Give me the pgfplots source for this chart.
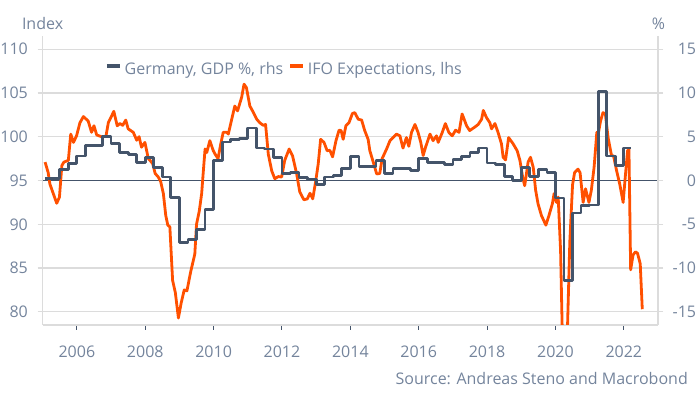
\documentclass[border=0pt]{standalone}
\usepackage{pgfplots}
\pgfplotsset{compat=1.18}
\usepackage{fontspec}
\setmainfont{Open Sans}
\definecolor{ifo}{HTML}{FF5000}
\definecolor{gdp}{HTML}{44546A}
\definecolor{txt}{HTML}{74849C}
\definecolor{gridc}{HTML}{DCDCDC}
\pgfplotstableread{
x y
2005.07 97.1
2005.16 95.9
2005.21 94.6
2005.31 93.5
2005.41 92.4
2005.49 93.1
2005.56 96.7
2005.62 97.1
2005.75 97.3
2005.82 100.3
2005.90 99.35
2005.99 100.1
2006.09 101.6
2006.19 102.3
2006.33 101.8
2006.43 100.5
2006.50 101.25
2006.58 100.2
2006.72 100.0
2006.85 100.05
2006.92 101.6
2007.02 102.4
2007.08 102.9
2007.18 101.25
2007.26 101.5
2007.34 101.3
2007.43 101.9
2007.50 100.9
2007.65 100.5
2007.75 99.6
2007.82 100.0
2007.89 98.8
2007.99 99.35
2008.09 97.5
2008.14 97.3
2008.22 96.9
2008.29 95.8
2008.38 95.4
2008.45 94.9
2008.53 93.5
2008.60 91.0
2008.66 89.9
2008.72 89.7
2008.80 83.6
2008.88 82.2
2008.97 79.3
2009.05 81.0
2009.14 82.5
2009.22 82.4
2009.33 84.6
2009.45 86.6
2009.50 90.0
2009.58 91.5
2009.65 93.5
2009.70 96.1
2009.75 98.6
2009.80 98.2
2009.89 99.55
2009.99 98.4
2010.06 97.9
2010.13 97.5
2010.20 99.0
2010.28 100.5
2010.38 100.5
2010.43 100.3
2010.53 102.0
2010.62 103.5
2010.70 102.95
2010.82 104.5
2010.89 106.0
2010.96 105.6
2011.06 103.5
2011.16 102.8
2011.26 102.0
2011.35 101.6
2011.45 101.3
2011.52 101.4
2011.60 98.0
2011.70 96.1
2011.79 95.2
2011.89 95.45
2011.99 95.4
2012.08 97.3
2012.21 98.6
2012.31 97.8
2012.43 95.75
2012.52 93.7
2012.64 92.8
2012.74 92.9
2012.82 93.55
2012.90 92.9
2012.99 95.0
2013.06 96.9
2013.13 99.7
2013.23 99.35
2013.32 98.4
2013.40 98.45
2013.48 97.7
2013.58 99.55
2013.67 100.75
2013.73 100.7
2013.79 99.7
2013.87 101.25
2013.96 101.6
2014.06 102.65
2014.13 102.75
2014.23 102.0
2014.33 101.9
2014.42 100.7
2014.52 99.7
2014.57 98.4
2014.67 97.1
2014.77 95.75
2014.86 95.8
2014.93 97.5
2015.06 98.6
2015.16 99.55
2015.25 99.9
2015.35 100.3
2015.45 100.1
2015.54 98.7
2015.64 99.9
2015.71 98.9
2015.79 100.5
2015.89 101.4
2015.98 100.5
2016.06 99.35
2016.13 97.85
2016.20 98.8
2016.33 100.3
2016.42 99.55
2016.52 100.1
2016.57 99.35
2016.68 100.4
2016.78 101.5
2016.88 100.5
2016.98 100.1
2017.08 100.75
2017.18 100.5
2017.27 102.6
2017.40 101.25
2017.49 100.7
2017.64 101.1
2017.74 101.4
2017.84 102.0
2017.89 103.0
2017.98 102.2
2018.08 101.6
2018.13 100.9
2018.23 101.5
2018.32 100.5
2018.42 99.2
2018.47 97.65
2018.54 97.35
2018.63 99.9
2018.76 99.2
2018.88 98.4
2018.96 97.3
2019.04 95.4
2019.10 94.4
2019.20 97.1
2019.27 97.65
2019.35 96.5
2019.42 93.9
2019.49 92.35
2019.59 91.0
2019.72 89.9
2019.81 91.0
2019.91 92.35
2019.96 93.5
2020.03 92.5
2020.08 93.1
2020.15 87.0
2020.24 70.0
2020.33 75.0
2020.42 88.0
2020.50 94.5
2020.56 95.9
2020.66 96.3
2020.72 95.9
2020.81 92.5
2020.88 94.05
2020.98 92.5
2021.05 93.9
2021.13 96.5
2021.21 100.5
2021.25 100.3
2021.32 101.8
2021.39 102.75
2021.46 102.6
2021.54 99.9
2021.64 97.85
2021.70 97.8
2021.79 96.1
2021.88 94.6
2021.98 92.5
2022.05 95.75
2022.11 98.4
2022.15 98.6
2022.20 84.8
2022.27 86.5
2022.34 86.85
2022.40 86.7
2022.48 85.5
2022.54 80.3
}\ifotable
\pgfplotstableread{
x y
2005.07 0.2
2005.25 0.2
2005.50 1.3
2005.75 1.9
2006.00 2.8
2006.25 4.0
2006.50 4.0
2006.75 5.0
2007.00 4.2
2007.25 3.2
2007.50 3.0
2007.75 2.1
2008.00 2.6
2008.25 1.5
2008.50 0.4
2008.75 -1.9
2009.00 -7.1
2009.25 -6.7
2009.50 -5.6
2009.75 -3.3
2010.00 2.3
2010.25 4.4
2010.50 4.7
2010.75 4.8
2011.00 6.0
2011.25 3.7
2011.50 3.6
2011.75 2.6
2012.00 0.8
2012.25 0.9
2012.50 0.35
2012.75 0.1
2013.00 -0.5
2013.25 0.4
2013.50 0.6
2013.75 1.4
2014.00 2.7
2014.25 1.6
2014.50 1.6
2014.75 2.3
2015.00 0.8
2015.25 1.4
2015.50 1.4
2015.75 1.1
2016.00 2.5
2016.25 2.1
2016.50 2.1
2016.75 1.8
2017.00 2.4
2017.25 2.7
2017.50 3.2
2017.75 3.7
2018.00 2.0
2018.25 1.8
2018.50 0.45
2018.75 0.0
2019.00 1.5
2019.25 0.45
2019.50 1.3
2019.75 0.9
2020.00 -2.0
2020.25 -11.4
2020.50 -3.7
2020.75 -2.9
2021.00 -2.8
2021.25 10.2
2021.50 2.8
2021.75 1.7
2022.00 3.7
2022.20 3.7
}\gdptable
\begin{document}
\begin{tikzpicture}
\path[use as bounding box] (-42.7pt,-70pt) rectangle (657.3pt,325pt);
\begin{axis}[
  scale only axis, width=615.3pt, height=289pt,
  xmin=2005, xmax=2023, ymin=78.5, ymax=111.5,
  axis x line*=bottom, axis y line*=left,
  axis line style={gridc, line width=1.2pt, -},
  xtick={2006,2008,...,2022},
  xticklabels={2006,2008,2010,2012,2014,2016,2018,2020,2022},
  ytick={80,85,...,110},
  yticklabels={80,85,90,95,100,105,110},
  ymajorgrids, major grid style={gridc, line width=1.2pt},
  tick align=outside, major tick length=5pt,
  xtick style={gdp, line width=1pt},
  ytick style={gridc, line width=1.2pt},
  tick label style={font=\fontsize{16}{19}\selectfont, text=txt, inner sep=0pt},
  xticklabel style={anchor=base, yshift=-28pt},
  yticklabel style={anchor=east, xshift=-9.7pt},
  extra y ticks={95}, extra y tick labels={},
  extra y tick style={grid=major, major grid style={gdp, line width=1pt}, major tick length=0pt},
]
\addplot[ifo, line width=2.8pt, line join=round] table[x=x, y=y] {\ifotable};
\end{axis}
\begin{axis}[
  scale only axis, width=615.3pt, height=289pt,
  xmin=2005, xmax=2023, ymin=-16.5, ymax=16.5,
  axis x line=none, axis y line*=right,
  axis line style={gridc, line width=1.2pt, -},
  ytick={-15,-10,...,15},
  yticklabels={-15,-10,-5,0,5,10,15},
  tick align=outside, major tick length=5pt,
  ytick style={gridc, line width=1.2pt},
  tick label style={font=\fontsize{16}{19}\selectfont, text=txt, inner sep=0pt},
  yticklabel style={anchor=east, xshift=33.3pt},
  legend columns=2,
  legend style={at={(0.1013,0.8865)}, anchor=west, draw=none, fill=none, inner sep=0pt,
    font=\fontsize{16}{19}\selectfont, text=txt,
    cells={anchor=base west}, nodes={inner sep=0pt},
    /tikz/every odd column/.append style={column sep=3pt},
    /tikz/every even column/.append style={column sep=5pt}},
  legend image code/.code={\draw[#1, line width=3.5pt, line cap=butt] (0pt,8pt) -- (13pt,8pt);},
]
\addplot[gdp, line width=2.8pt, const plot, line join=round] table[x=x, y=y] {\gdptable};
\addlegendentry{Germany, GDP \%, rhs}
\addlegendimage{ifo, line width=2.8pt}
\addlegendentry{IFO Expectations, lhs}
\end{axis}
\node[anchor=base west, font=\fontsize{16}{19}\selectfont, text=txt] at (-24.2pt,295pt) {Index};
\node[anchor=base, font=\fontsize{16}{19}\selectfont, text=txt] at (615.8pt,295pt) {\%};
\node[anchor=base east, font=\fontsize{16}{19}\selectfont, text=txt, inner sep=0pt] at (645.3pt,-60pt) {Source: Andreas Steno and Macrobond};
\end{tikzpicture}
\end{document}
